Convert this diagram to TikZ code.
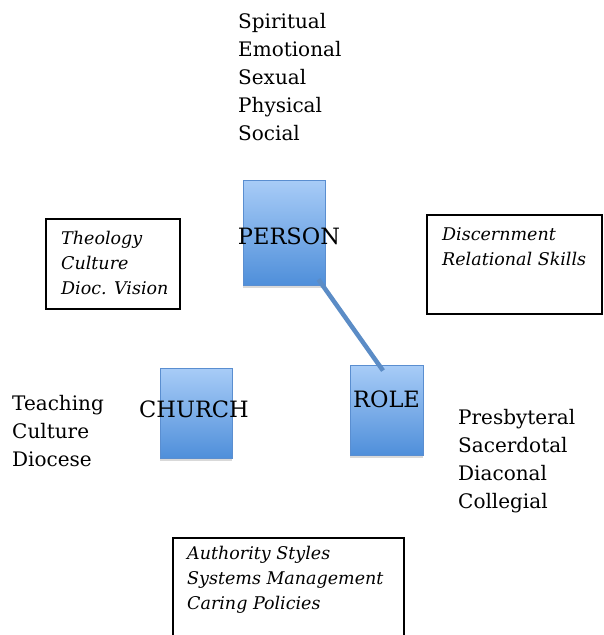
\documentclass[tikz,border=0pt]{standalone}
\usepackage{fontspec}
\setmainfont{DejaVu Serif}
\usetikzlibrary{shadows,calc}
\definecolor{boxtop}{HTML}{A8CCF7}
\definecolor{boxbot}{HTML}{4F8FDA}
\definecolor{boxedge}{HTML}{5A8ED0}
\definecolor{linkblue}{HTML}{5B8CC6}
\begin{document}
\begin{tikzpicture}[x=1pt,y=-1pt,
  bluebox/.style={draw=boxedge, line width=0.8pt, top color=boxtop, bottom color=boxbot,
    inner sep=0pt, drop shadow={opacity=0.3, shadow xshift=0pt, shadow yshift=-3pt}},
  frame/.style={draw=black, line width=1.3pt, inner sep=0pt},
  plain/.style={anchor=base west, inner sep=0pt, font=\fontsize{20}{24}\selectfont},
  note/.style={anchor=base west, inner sep=0pt, font=\fontsize{17.5}{21}\selectfont\itshape},
  title/.style={anchor=base, inner sep=0pt, font=\fontsize{22.5}{27}\selectfont},
  link/.style={draw=linkblue, line width=4.5pt}]
\useasboundingbox (0,0) rectangle (603,635);

% white frames with notes
\node[frame, minimum width=134, minimum height=90] (theo) at (113,264) {};
\node[frame, minimum width=175, minimum height=99] (disc) at (514.5,264.5) {};
\draw[frame] (173,635) -- (173,538) coordinate (authtl) -- (404,538) coordinate (authtr) -- (404,635);

% blue boxes
\node[bluebox, minimum width=82, minimum height=105] (person) at (284,232.5) {};
\node[bluebox, minimum width=73, minimum height=90] (role) at (386.5,410) {};
\node[bluebox, minimum width=72, minimum height=90] (church) at (196,413) {};

% connector between person and role
\draw[link] ($(person.south east)+(-7,-6)$) -- ($(role.north)+(-3.5,6)$);

% box titles
\node[title] (personlabel) at (289,244) {PERSON};
\node[title] (rolelabel) at (386.5,407) {ROLE};
\node[title] (churchlabel) at (194,417) {CHURCH};

% person aspects
\node[plain] (sp) at (238,28) {Spiritual};
\node[plain] (em) at (238,56) {Emotional};
\node[plain] (se) at (238,84) {Sexual};
\node[plain] (ph) at (238,112) {Physical};
\node[plain] (so) at (238,140) {Social};

% church aspects
\node[plain] (te) at (12,410) {Teaching};
\node[plain] (cu) at (12,438) {Culture};
\node[plain] (di) at (12,466) {Diocese};

% role aspects
\node[plain] (pr) at (458,424) {Presbyteral};
\node[plain] (sa) at (458,452) {Sacerdotal};
\node[plain] (dc) at (458,480) {Diaconal};
\node[plain] (co) at (458,508) {Collegial};

% notes in frames
\node[note] (th) at (61,244) {Theology};
\node[note] (cl) at (61,269) {Culture};
\node[note] (dv) at (61,294) {Dioc. Vision};
\node[note] (ds) at (442,240) {Discernment};
\node[note] (rs) at (442,265) {Relational Skills};
\node[note] (as) at (187,559) {Authority Styles};
\node[note] (sm) at (187,584) {Systems Management};
\node[note] (cp) at (187,609) {Caring Policies};
\end{tikzpicture}
\end{document}
